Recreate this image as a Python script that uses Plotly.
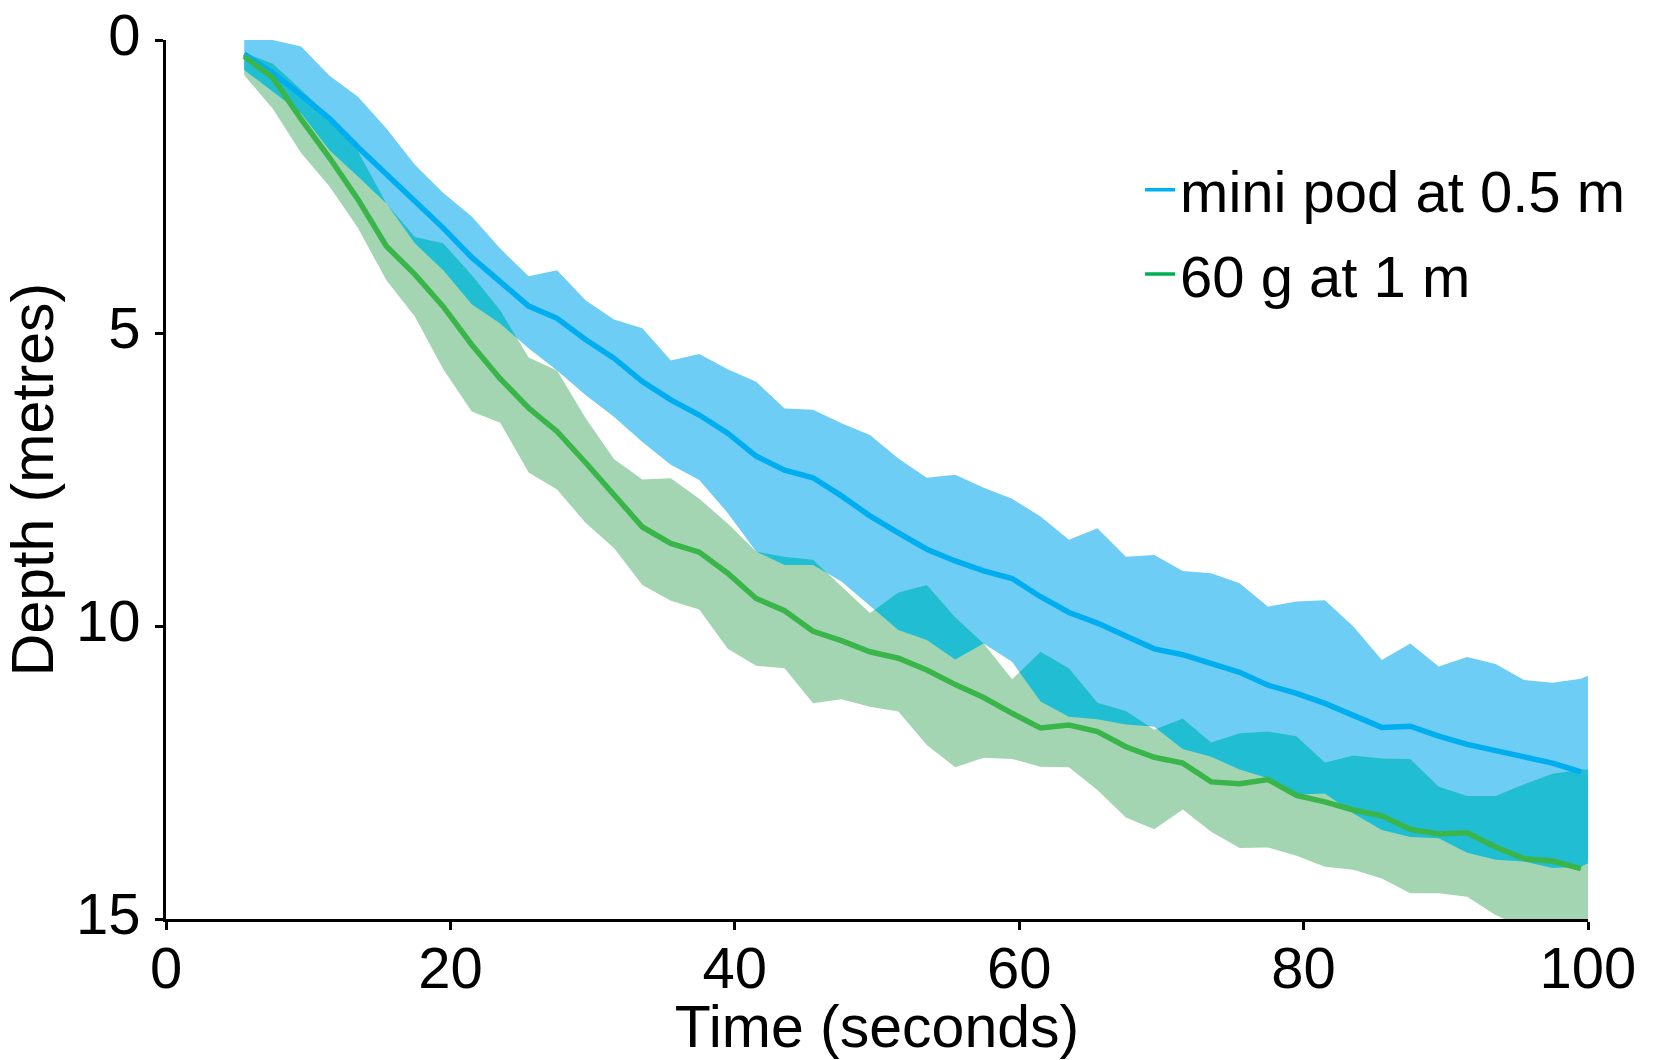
import plotly.graph_objects as go

# ---------------- data ----------------
time_s = [5.5, 7.5, 9.5, 11.5, 13.5, 15.5, 17.5, 19.5, 21.5, 23.5, 25.5, 27.5,
          29.5, 31.5, 33.5, 35.5, 37.5, 39.5, 41.5, 43.5, 45.5, 47.5, 49.5, 51.5,
          53.5, 55.5, 57.5, 59.5, 61.5, 63.5, 65.5, 67.5, 69.5, 71.5, 73.5, 75.5,
          77.5, 79.5, 81.5, 83.5, 85.5, 87.5, 89.5, 91.5, 93.5, 95.5, 97.5, 99.5]
band_time_s = time_s + [100.0]

# mini pod at 0.5 m
pod_mean = [0.24, 0.56, 0.94, 1.34, 1.83, 2.28, 2.76, 3.21, 3.71, 4.12, 4.54, 4.75,
            5.11, 5.43, 5.83, 6.14, 6.40, 6.71, 7.10, 7.34, 7.47, 7.78, 8.12, 8.41,
            8.69, 8.89, 9.06, 9.19, 9.50, 9.77, 9.95, 10.17, 10.39, 10.49, 10.64, 10.79,
            11.01, 11.15, 11.32, 11.52, 11.73, 11.71, 11.88, 12.02, 12.13, 12.22, 12.34, 12.49]
pod_shallow = [-0.30, 0.00, 0.11, 0.61, 0.97, 1.51, 2.13, 2.61, 3.01, 3.56, 4.03, 3.93,
               4.44, 4.77, 4.92, 5.47, 5.36, 5.62, 5.83, 6.29, 6.31, 6.54, 6.74, 7.14,
               7.47, 7.42, 7.64, 7.83, 8.13, 8.53, 8.33, 8.82, 8.79, 9.06, 9.10, 9.27,
               9.67, 9.58, 9.56, 10.01, 10.58, 10.30, 10.69, 10.53, 10.65, 10.92, 10.97, 10.90,
               10.85]
pod_deep = [0.51, 0.88, 1.25, 1.88, 2.33, 2.79, 3.47, 3.93, 4.51, 4.84, 5.26, 5.64,
            6.06, 6.43, 6.86, 7.25, 7.51, 8.07, 8.73, 8.96, 8.96, 9.24, 9.65, 10.07,
            10.24, 10.57, 10.30, 10.61, 11.29, 11.55, 11.59, 11.68, 11.72, 12.10, 12.23, 12.45,
            12.60, 12.88, 12.86, 13.20, 13.48, 13.60, 13.62, 13.87, 13.99, 14.02, 14.13, 14.11,
            14.05]

# 60 g at 1 m
g60_mean = [0.28, 0.64, 1.35, 2.01, 2.72, 3.52, 4.00, 4.55, 5.20, 5.78, 6.28, 6.68,
            7.21, 7.75, 8.31, 8.59, 8.74, 9.10, 9.53, 9.74, 10.09, 10.25, 10.44, 10.55,
            10.75, 11.00, 11.22, 11.49, 11.74, 11.69, 11.80, 12.06, 12.24, 12.34, 12.66, 12.69,
            12.62, 12.89, 13.00, 13.14, 13.24, 13.47, 13.55, 13.53, 13.77, 13.97, 14.01, 14.14]
g60_shallow = [0.22, 0.40, 0.85, 1.30, 1.90, 2.79, 3.36, 3.47, 4.01, 4.61, 5.42, 5.64,
               6.45, 7.15, 7.50, 7.48, 7.83, 8.25, 8.73, 8.82, 8.87, 9.33, 9.78, 9.43,
               9.30, 9.85, 10.30, 10.91, 10.44, 10.72, 11.31, 11.45, 11.77, 11.58, 11.99, 11.83,
               11.80, 11.88, 12.33, 12.21, 12.26, 12.27, 12.74, 12.90, 12.90, 12.70, 12.52, 12.45,
               12.45]
g60_deep = [0.60, 1.17, 1.93, 2.50, 3.21, 4.10, 4.72, 5.62, 6.34, 6.53, 7.38, 7.67,
            8.24, 8.67, 9.30, 9.57, 9.72, 10.39, 10.68, 10.72, 11.32, 11.25, 11.38, 11.46,
            12.03, 12.41, 12.25, 12.27, 12.40, 12.41, 12.80, 13.27, 13.47, 13.13, 13.51, 13.79,
            13.78, 13.92, 14.11, 14.16, 14.31, 14.56, 14.56, 14.62, 14.93, 15.16, 15.30, 15.42,
            15.45]

series_names = ["mini pod at 0.5 m", "60 g at 1 m"]
x_ticks = [0, 20, 40, 60, 80, 100]
y_ticks = [0, 5, 10, 15]

# ---------------- styles ----------------
POD_BAND = "#6DCDF5"
G60_BAND = "#A3D5B3"
OVERLAP = "#21BDD3"
POD_LINE = "#00AEEF"
G60_LINE = "#3AB54A"
FONT = "Liberation Sans, Arial, Helvetica, sans-serif"


def band_trace(x, top, bot, color):
    return go.Scatter(x=list(x) + list(x)[::-1], y=list(top) + list(bot)[::-1],
                      mode="lines", fill="toself", fillcolor=color,
                      line=dict(width=0, color=color), hoverinfo="skip",
                      showlegend=False)


def overlap_regions(x, top_a, bot_a, top_b, bot_b):
    top = [max(a, b) for a, b in zip(top_a, top_b)]
    bot = [min(a, b) for a, b in zip(bot_a, bot_b)]
    regions, cx, ct, cb = [], [], [], []
    n = len(x)
    for i in range(n):
        d = bot[i] - top[i]
        if d > 0:
            cx.append(x[i]); ct.append(top[i]); cb.append(bot[i])
        if i < n - 1:
            d2 = bot[i + 1] - top[i + 1]
            if (d > 0) != (d2 > 0):
                f = d / (d - d2)
                xc = x[i] + f * (x[i + 1] - x[i])
                yc = top[i] + f * (top[i + 1] - top[i])
                cx.append(xc); ct.append(yc); cb.append(yc)
                if d > 0:
                    regions.append((cx, ct, cb))
                    cx, ct, cb = [], [], []
    if len(cx) > 1:
        regions.append((cx, ct, cb))
    return regions


fig = go.Figure()
fig.add_trace(band_trace(band_time_s, pod_shallow, pod_deep, POD_BAND))
fig.add_trace(band_trace(band_time_s, g60_shallow, g60_deep, G60_BAND))
for rx, rt, rb in overlap_regions(band_time_s, pod_shallow, pod_deep, g60_shallow, g60_deep):
    fig.add_trace(band_trace(rx, rt, rb, OVERLAP))

fig.add_trace(go.Scatter(x=time_s, y=pod_mean, mode="lines",
                         line=dict(color=POD_LINE, width=5.5), showlegend=False,
                         name=series_names[0]))
fig.add_trace(go.Scatter(x=time_s, y=g60_mean, mode="lines",
                         line=dict(color=G60_LINE, width=5.5), showlegend=False,
                         name=series_names[1]))

# legend entries
fig.add_trace(go.Scatter(x=[None], y=[None], mode="lines", name=series_names[0],
                         line=dict(color="#00B0F0", width=3.5), legendgroup="a"))
fig.add_trace(go.Scatter(x=[None], y=[None], mode="lines", name=series_names[1],
                         line=dict(color="#00B050", width=3.5), legendgroup="b"))

axis_common = dict(showline=True, linewidth=3, linecolor="black", ticks="outside",
                   ticklen=8, tickwidth=3, tickcolor="black", showgrid=False,
                   zeroline=False, ticklabeloverflow="allow",
                   tickfont=dict(size=58, family=FONT, color="black"))

fig.update_layout(
    width=1660, height=1060,
    margin=dict(l=166, r=72, t=40, b=141, autoexpand=False),
    paper_bgcolor="white", plot_bgcolor="white",
    font=dict(family=FONT, size=58, color="black"),
    xaxis=dict(range=[0, 100], tickvals=x_ticks, ticktext=[str(v) for v in x_ticks],
               ticklabelstandoff=-12,
               title=dict(text="Time (seconds)", standoff=12,
                          font=dict(size=59, family=FONT, color="black")),
               **axis_common),
    yaxis=dict(range=[15, 0], tickvals=y_ticks, ticktext=[str(v) for v in y_ticks],
               ticklabelstandoff=3, ticklabelshift=5,
               title=dict(text="Depth (metres)", standoff=14,
                          font=dict(size=59, family=FONT, color="black")),
               **axis_common),
    legend=dict(x=0.685, y=0.88, xanchor="left", yanchor="top",
                bgcolor="rgba(0,0,0,0)", font=dict(size=58, family=FONT, color="black"),
                traceorder="grouped", tracegroupgap=6, itemwidth=30),
    showlegend=True,
)

fig.write_html("out.html")
